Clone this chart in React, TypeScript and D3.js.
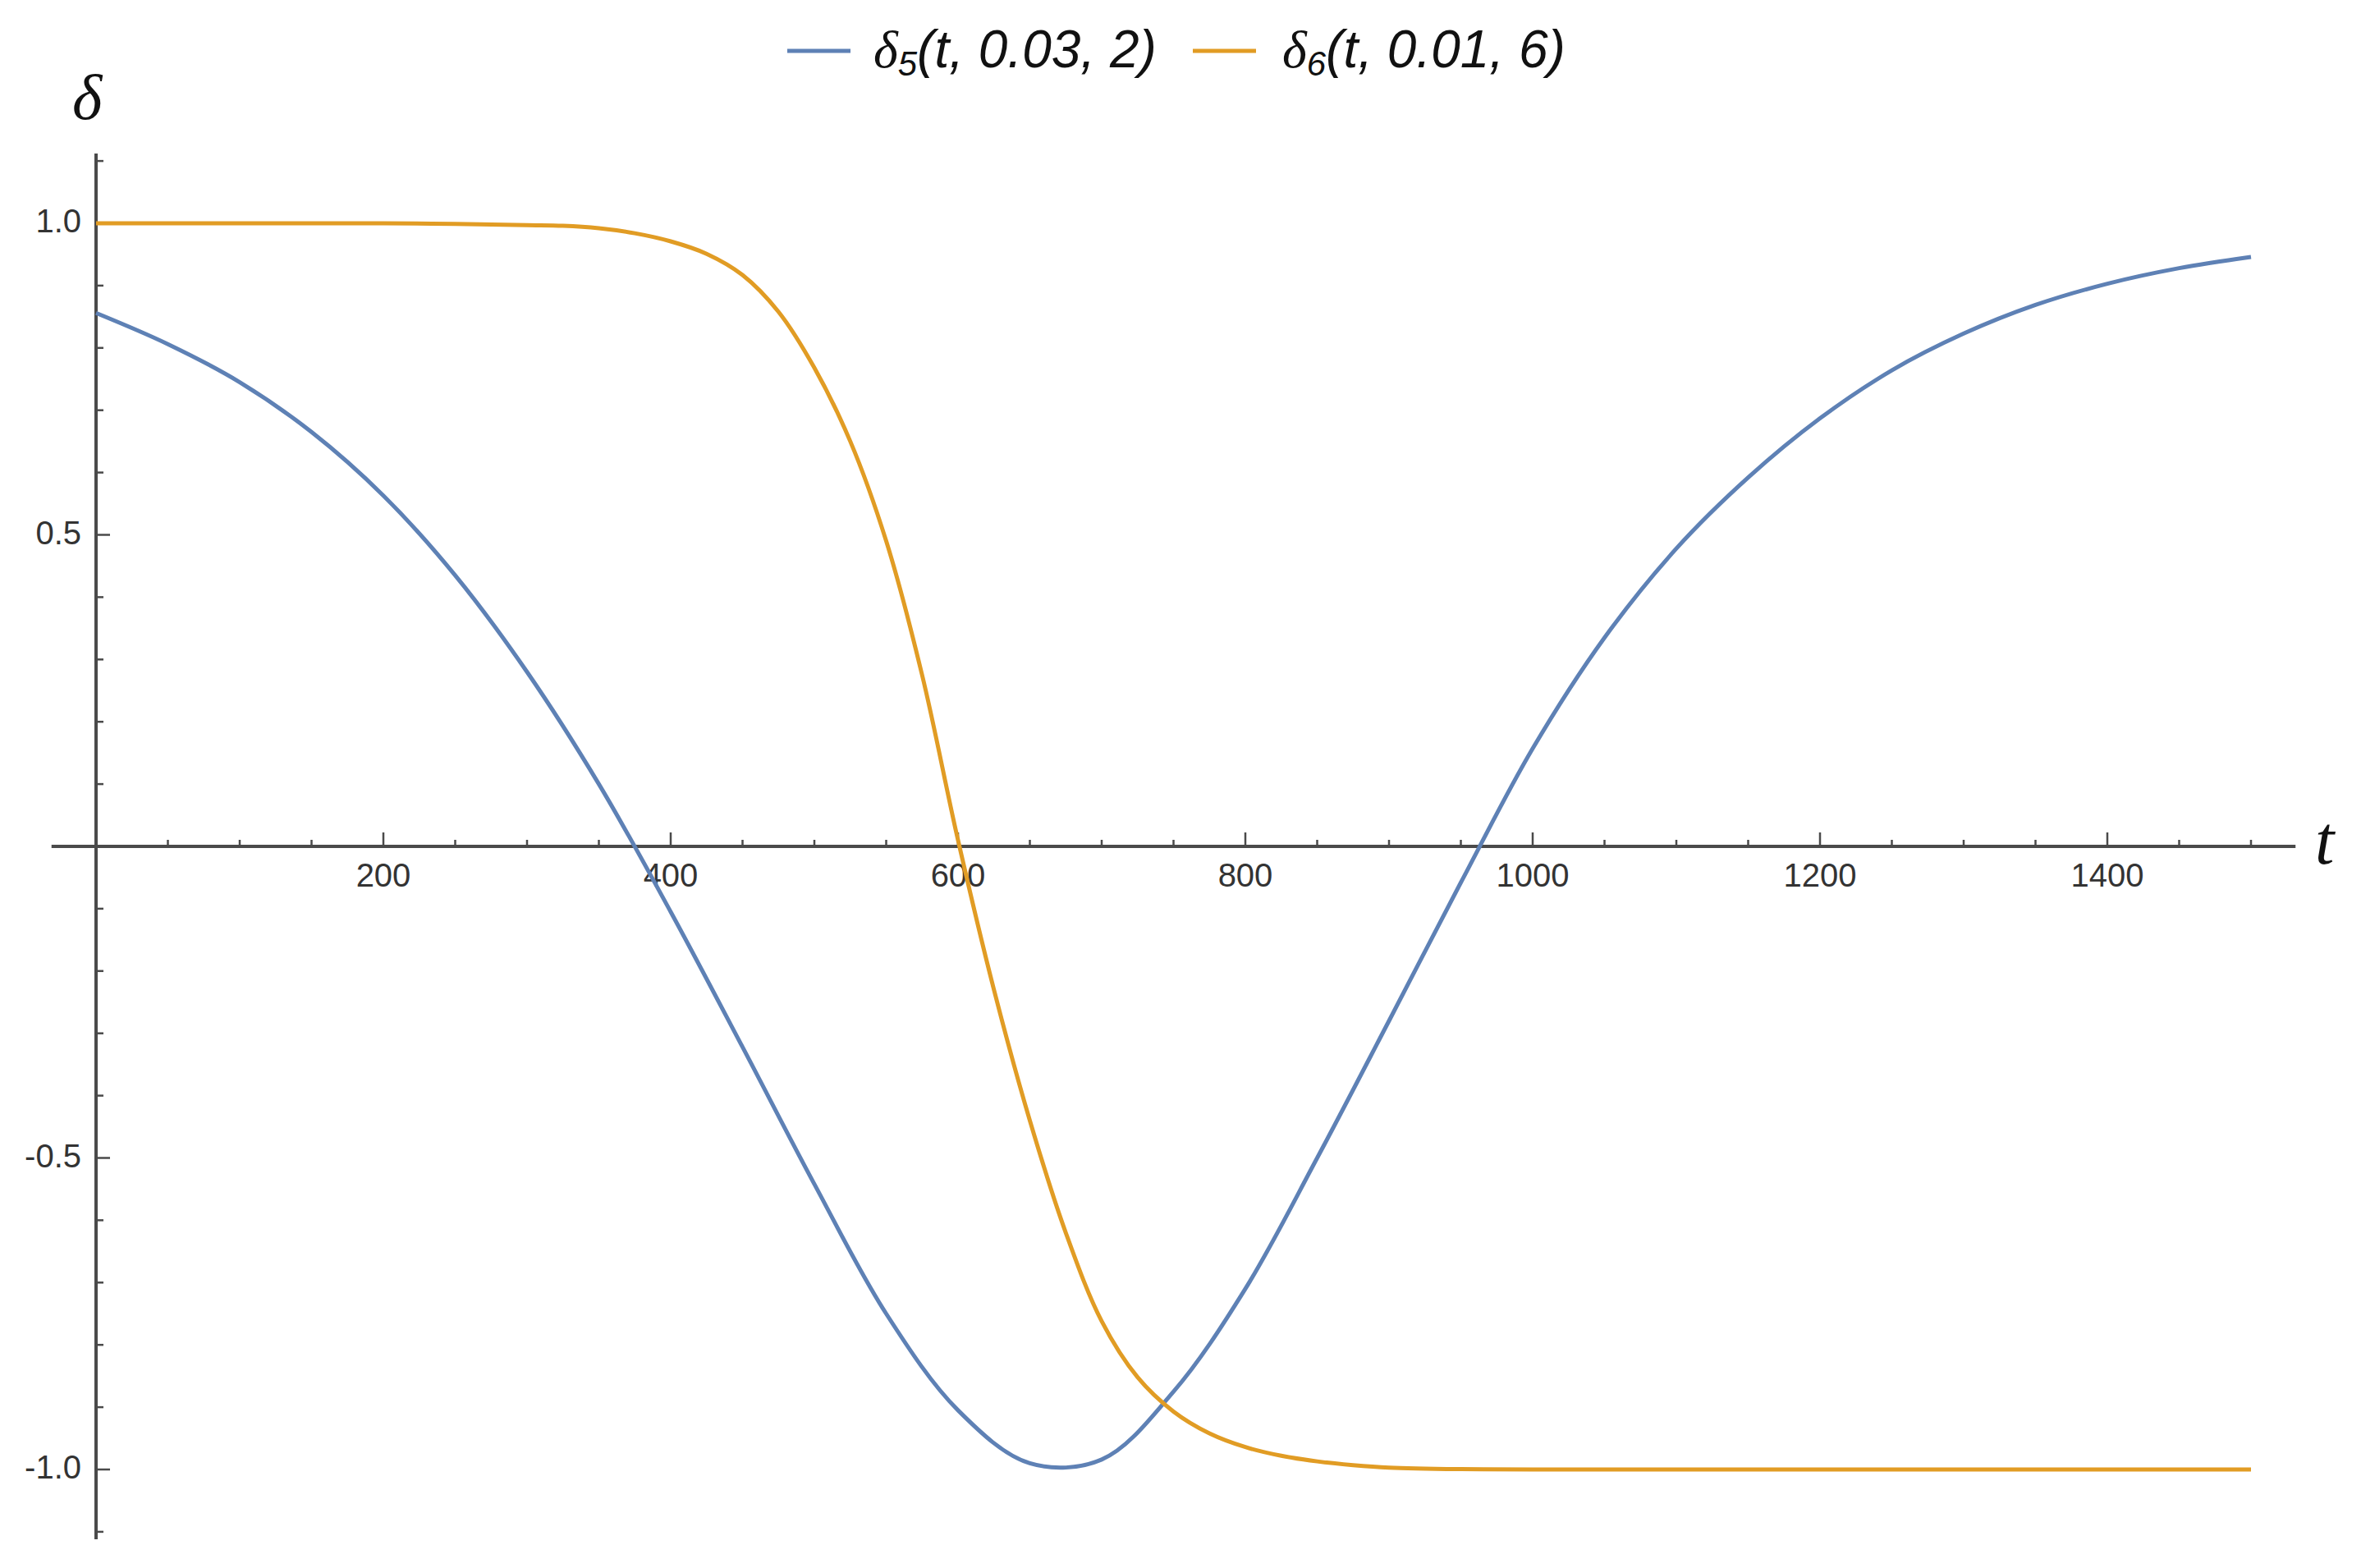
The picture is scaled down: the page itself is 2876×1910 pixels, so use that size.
import React from 'react';
import * as d3 from 'd3';

// readings: t, delta5(t, 0.03, 2)
const blueT = [0, 50, 100, 150, 200, 250, 300, 350, 400, 450, 500, 550, 600, 650, 700, 750, 800, 850, 900, 950, 1000, 1050, 1100, 1150, 1200, 1250, 1300, 1350, 1400, 1450, 1500];
const blueV = [0.856, 0.806, 0.745, 0.665, 0.563, 0.435, 0.28, 0.1, -0.105, -0.322, -0.542, -0.75, -0.905, -0.99, -0.984, -0.875, -0.71, -0.5, -0.28, -0.058, 0.157, 0.335, 0.478, 0.592, 0.687, 0.764, 0.823, 0.869, 0.903, 0.928, 0.946];

// t, delta6(t, 0.01, 6)
const orangeT = [0, 100, 200, 250, 300, 325, 350, 375, 400, 425, 450, 475, 500, 525, 550, 575, 600, 625, 650, 675, 700, 725, 750, 775, 800, 825, 850, 875, 900, 950, 1000, 1250, 1500];
const orangeV = [1.0, 1.0, 1.0, 0.999, 0.997, 0.996, 0.992, 0.984, 0.971, 0.951, 0.917, 0.858, 0.768, 0.65, 0.49, 0.275, 0.01, -0.23, -0.44, -0.62, -0.762, -0.852, -0.907, -0.942, -0.964, -0.978, -0.987, -0.993, -0.997, -0.9995, -1.0, -1.0, -1.0];

const xMajor = [200, 400, 600, 800, 1000, 1200, 1400];
const yMajor = [-1.0, -0.5, 0.5, 1.0];
const yMajorLabels = ['-1.0', '-0.5', '0.5', '1.0'];

const seriesNames = [
  { sub: '5', args: '(t, 0.03, 2)' },
  { sub: '6', args: '(t, 0.01, 6)' },
];

const BLUE = '#5e81b5';
const ORANGE = '#e19c24';
const AXIS = '#4a4a4a';

const W = 2876;
const H = 1910;

export default function App() {
  const x = d3.scaleLinear().domain([0, 1500]).range([117, 2742]);
  const y = d3.scaleLinear().domain([-1, 1]).range([1790, 272]);

  const xMinor = d3.range(50, 1501, 50).filter((t) => t % 200 !== 0);
  const yMinor = d3.range(-11, 12).map((k) => k / 10).filter((v) => v !== 0 && Math.abs(v * 2 - Math.round(v * 2)) > 1e-6);

  const line = d3
    .line<[number, number]>()
    .x((d) => x(d[0]))
    .y((d) => y(d[1]))
    .curve(d3.curveCatmullRom.alpha(0.5));

  const bluePts = blueT.map((t, i) => [t, blueV[i]] as [number, number]);
  const orangePts = orangeT.map((t, i) => [t, orangeV[i]] as [number, number]);

  const x0 = x(0);
  const y0 = y(0);
  const sans = '"Liberation Sans", Arial, sans-serif';
  const serif = '"Liberation Serif", "Times New Roman", serif';

  const legendItems = [
    { color: BLUE, lineX: 959, textX: 1064, name: seriesNames[0] },
    { color: ORANGE, lineX: 1453, textX: 1562, name: seriesNames[1] },
  ];

  return (
    <svg
      width={W}
      height={H}
      style={{ position: 'absolute', left: 0, top: 0, background: '#fff' }}
    >
      <rect width={W} height={H} fill="#fff" />

      {/* axes */}
      <line x1={x(-31)} x2={x(1531)} y1={y0} y2={y0} stroke={AXIS} strokeWidth={4} />
      <line x1={x0} x2={x0} y1={y(1.112)} y2={y(-1.112)} stroke={AXIS} strokeWidth={4} />

      {/* x ticks */}
      {xMinor.map((t) => (
        <line key={'xm' + t} x1={x(t)} x2={x(t)} y1={y0} y2={y0 - 8} stroke={AXIS} strokeWidth={2.5} />
      ))}
      {xMajor.map((t) => (
        <g key={'xM' + t}>
          <line x1={x(t)} x2={x(t)} y1={y0} y2={y0 - 17} stroke={AXIS} strokeWidth={2.5} />
          <text x={x(t)} y={y0 + 49} textAnchor="middle" fontFamily={sans} fontSize={40} fill="#333">
            {t}
          </text>
        </g>
      ))}

      {/* y ticks */}
      {yMinor.map((v) => (
        <line key={'ym' + v} x1={x0} x2={x0 + 9} y1={y(v)} y2={y(v)} stroke={AXIS} strokeWidth={2.5} />
      ))}
      {yMajor.map((v, i) => (
        <g key={'yM' + v}>
          <line x1={x0} x2={x0 + 17} y1={y(v)} y2={y(v)} stroke={AXIS} strokeWidth={2.5} />
          <text x={99} y={y(v) + 11} textAnchor="end" fontFamily={sans} fontSize={40} fill="#333">
            {yMajorLabels[i]}
          </text>
        </g>
      ))}

      {/* curves */}
      <path d={line(bluePts) || ''} fill="none" stroke={BLUE} strokeWidth={5} />
      <path d={line(orangePts) || ''} fill="none" stroke={ORANGE} strokeWidth={5} />

      {/* axis labels */}
      <text x={2820} y={1052} fontFamily={serif} fontStyle="italic" fontSize={84} fill="#111">
        t
      </text>
      <text x={88} y={145} fontFamily={serif} fontStyle="italic" fontSize={78} fill="#111">
        δ
      </text>

      {/* legend */}
      {legendItems.map((it) => (
        <g key={it.color}>
          <line x1={it.lineX} x2={it.lineX + 77} y1={62} y2={62} stroke={it.color} strokeWidth={5} />
          <text x={it.textX} y={82} fontFamily={sans} fontStyle="italic" fontSize={64} fill="#111">
            <tspan fontFamily={serif}>δ</tspan>
            <tspan fontSize={42} dy={10}>{it.name.sub}</tspan>
            <tspan dy={-10}>{it.name.args}</tspan>
          </text>
        </g>
      ))}
    </svg>
  );
}
